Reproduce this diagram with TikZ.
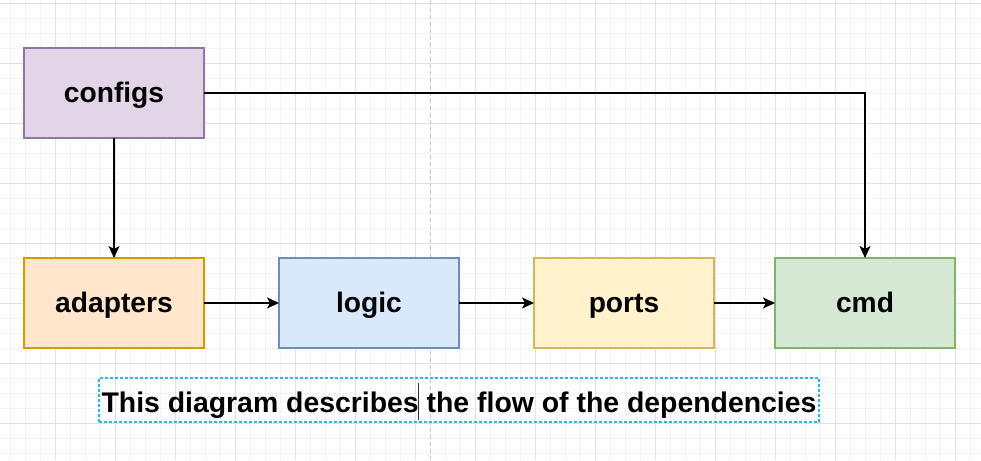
\documentclass[tikz,border=0pt]{standalone}
\usepackage{fontspec}
\setmainfont{Liberation Sans}
\usepackage{xcolor}
\usepackage{tikz}
\usetikzlibrary{positioning,arrows.meta}
\definecolor{ConfigFill}{HTML}{E1D5E7}
\definecolor{ConfigLine}{HTML}{9673A6}
\definecolor{AdaptFill}{HTML}{FFE6CC}
\definecolor{AdaptLine}{HTML}{D79B00}
\definecolor{LogicFill}{HTML}{DAE8FC}
\definecolor{LogicLine}{HTML}{6C8EBF}
\definecolor{PortsFill}{HTML}{FFF2CC}
\definecolor{PortsLine}{HTML}{D6B656}
\definecolor{CmdFill}{HTML}{D5E8D4}
\definecolor{CmdLine}{HTML}{82B366}
\definecolor{NoteLine}{HTML}{29B6F2}
\definecolor{GridMinor}{HTML}{F3F3F3}
\definecolor{GridMajor}{HTML}{E2E2E2}
\definecolor{PageLine}{HTML}{C8C8C8}
\tikzset{
  layerbox/.style={line width=1.2pt, minimum width=180pt, minimum height=90pt,
    inner sep=0pt, outer sep=0pt, text height=24pt, text depth=5pt,
    font=\fontsize{28.2}{32}\selectfont\bfseries},
  flow/.style={draw=black, line width=1.2pt,
    -{Stealth[length=12pt, width=11pt, inset=3pt]}},
}

\begin{document}
\begin{tikzpicture}[x=1pt, y=1pt]
        \useasboundingbox[fill=white] (0,0) rectangle (981,460);
        % background grid
        \begin{scope}[shift={(55,37)}]
          \draw[GridMinor, line width=0.8pt, step=15pt] (-55,-37) grid (926,423);
          \draw[GridMajor, line width=0.8pt, step=60pt] (-55,-37) grid (926,423);
        \end{scope}
        \draw[PageLine, line width=1pt, dash pattern=on 4pt off 3pt] (430,0) -- (430,460);

        \node[layerbox, draw=ConfigLine, fill=ConfigFill] (configs) at (114,367) {configs};
        \node[layerbox, draw=AdaptLine, fill=AdaptFill, below=120pt of configs] (adapters) {adapters};
        \node[layerbox, draw=LogicLine, fill=LogicFill, right=75pt of adapters] (logic) {logic};
        \node[layerbox, draw=PortsLine, fill=PortsFill, right=75pt of logic] (ports) {ports};
        \node[layerbox, draw=CmdLine, fill=CmdFill, right=61pt of ports] (cmd) {cmd};

        \draw[flow] (configs) -- (adapters);
        \draw[flow] (configs.east) -| (cmd.north);
        \draw[flow] (adapters) -- (logic);
        \draw[flow] (logic) -- (ports);
        \draw[flow] (ports) -- (cmd);

        \node[draw=NoteLine, line width=1.2pt, dash pattern=on 3pt off 2pt,
          minimum width=720pt, minimum height=44pt, inner sep=0pt, outer sep=0pt,
          text height=30pt, text depth=4.6pt,
          font=\fontsize{28.4}{32}\selectfont\bfseries] (note) at (459,60)
          {This diagram describes the flow of the dependencies};
        % text cursor
        \draw[black!80, line width=1pt] (418,77) -- (418,40);
      \end{tikzpicture}
\end{document}
